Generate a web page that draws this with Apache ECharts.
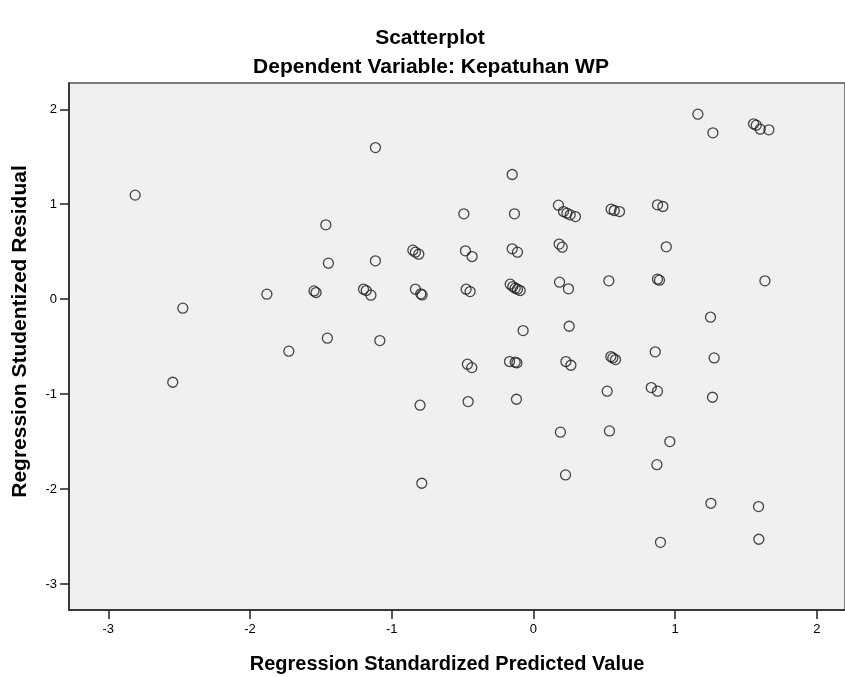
<!DOCTYPE html>
<html>
<head>
<meta charset="utf-8">
<script src="https://cdn.jsdelivr.net/npm/echarts@6/dist/echarts.min.js"></script>
<style>
html,body{margin:0;padding:0;background:#fff;}
#chart{width:845px;height:677px;}
</style>
</head>
<body>
<div id="chart"></div>
<script>
// Regression Standardized Predicted Value (x)
var predicted = [
  -2.810, -2.474, -2.545, -1.881, -1.726, -1.548, -1.534, -1.465, -1.447, -1.454,
  -1.199, -1.180, -1.147, -1.115, -1.115, -1.084, -0.851, -0.833, -0.809, -0.833,
  -0.795, -0.786, -0.800, -0.788, -0.491, -0.480, -0.433, -0.475, -0.447, -0.466,
  -0.435, -0.461, -0.150, -0.134, -0.150, -0.113, -0.164, -0.146, -0.129, -0.113,
  -0.094, -0.073, -0.169, -0.129, -0.117, -0.120, 0.176, 0.212, 0.236, 0.259,
  0.296, 0.181, 0.203, 0.184, 0.247, 0.252, 0.229, 0.264, 0.190, 0.226,
  0.548, 0.570, 0.607, 0.532, 0.546, 0.560, 0.579, 0.520, 0.536, 0.875,
  0.913, 0.937, 0.875, 0.889, 0.859, 0.831, 0.875, 0.962, 0.871, 0.896,
  1.160, 1.266, 1.249, 1.275, 1.263, 1.252, 1.553, 1.572, 1.600, 1.661,
  1.633, 1.588, 1.590
];
// Regression Studentized Residual (y)
var residual = [
  1.096, -0.095, -0.875, 0.053, -0.548, 0.087, 0.070, 0.783, 0.379, -0.411,
  0.105, 0.091, 0.042, 1.597, 0.404, -0.436, 0.516, 0.495, 0.474, 0.105,
  0.056, 0.045, -1.117, -1.939, 0.899, 0.509, 0.449, 0.105, 0.080, -0.685,
  -0.721, -1.079, 1.313, 0.899, 0.530, 0.495, 0.158, 0.133, 0.116, 0.105,
  0.091, -0.331, -0.657, -0.664, -0.671, -1.054, 0.990, 0.923, 0.906, 0.888,
  0.870, 0.580, 0.548, 0.179, 0.109, -0.285, -0.657, -0.696, -1.401, -1.851,
  0.948, 0.934, 0.923, 0.193, -0.605, -0.619, -0.636, -0.969, -1.388, 0.994,
  0.976, 0.551, 0.211, 0.200, -0.555, -0.931, -0.969, -1.500, -1.743, -2.561,
  1.949, 1.752, -0.190, -0.619, -1.033, -2.150, 1.847, 1.833, 1.791, 1.784,
  0.193, -2.185, -2.529
];
var xTicks = [-3, -2, -1, 0, 1, 2];
var yTicks = [-3, -2, -1, 0, 1, 2];
var titleText = 'Scatterplot';
var subtitleText = 'Dependent Variable: Kepatuhan WP';
var xName = 'Regression Standardized Predicted Value';
var yName = 'Regression Studentized Residual';

var points = predicted.map(function (v, i) { return [v, residual[i]]; });
var FONT = '"Liberation Sans", Arial, sans-serif';

var chart = echarts.init(document.getElementById('chart'), null, {renderer: 'canvas'});
chart.setOption({
  animation: false,
  backgroundColor: '#ffffff',
  graphic: [
    {type: 'text', x: 430, y: 38, style: {text: titleText, font: 'bold 21px ' + FONT, fill: '#000', align: 'center', verticalAlign: 'middle'}},
    {type: 'text', x: 431, y: 67, style: {text: subtitleText, font: 'bold 21px ' + FONT, fill: '#000', align: 'center', verticalAlign: 'middle'}}
  ],
  grid: {
    left: 69, top: 83, right: 0, bottom: 67,
    show: true, backgroundColor: '#f0f0f0', borderColor: '#555555', borderWidth: 1.5,
    containLabel: false,
    outerBoundsMode: 'none'
  },
  xAxis: {
    type: 'value',
    min: -3.277, max: 2.198,
    name: xName,
    nameLocation: 'middle',
    nameGap: 44,
    nameTextStyle: {fontFamily: FONT, fontWeight: 'bold', fontSize: 20, color: '#000', padding: [0, 20, 0, 0]},
    axisLine: {show: true, onZero: false, lineStyle: {color: '#222', width: 1.5}},
    axisTick: {show: true, inside: false, length: 9, lineStyle: {color: '#222', width: 1.5}, customValues: xTicks},
    axisLabel: {fontFamily: FONT, fontSize: 13, color: '#000', margin: 13, customValues: xTicks},
    splitLine: {show: false}
  },
  yAxis: {
    type: 'value',
    min: -3.274, max: 2.277,
    name: yName,
    nameLocation: 'middle',
    nameGap: 38,
    nameRotate: 90,
    nameTextStyle: {fontFamily: FONT, fontWeight: 'bold', fontSize: 21, color: '#000', padding: [0, 0, 0, 30]},
    axisLine: {show: true, onZero: false, lineStyle: {color: '#222', width: 1.5}},
    axisTick: {show: true, inside: false, length: 9, lineStyle: {color: '#222', width: 1.5}, customValues: yTicks},
    axisLabel: {fontFamily: FONT, fontSize: 13, color: '#000', margin: 12, customValues: yTicks},
    splitLine: {show: false}
  },
  series: [{
    type: 'scatter',
    data: points,
    symbol: 'circle',
    symbolSize: 10,
    itemStyle: {color: 'rgba(0,0,0,0)', borderColor: '#1a1a1a', borderWidth: 1.3},
    emphasis: {disabled: true},
    silent: true
  }]
});
</script>
</body>
</html>
